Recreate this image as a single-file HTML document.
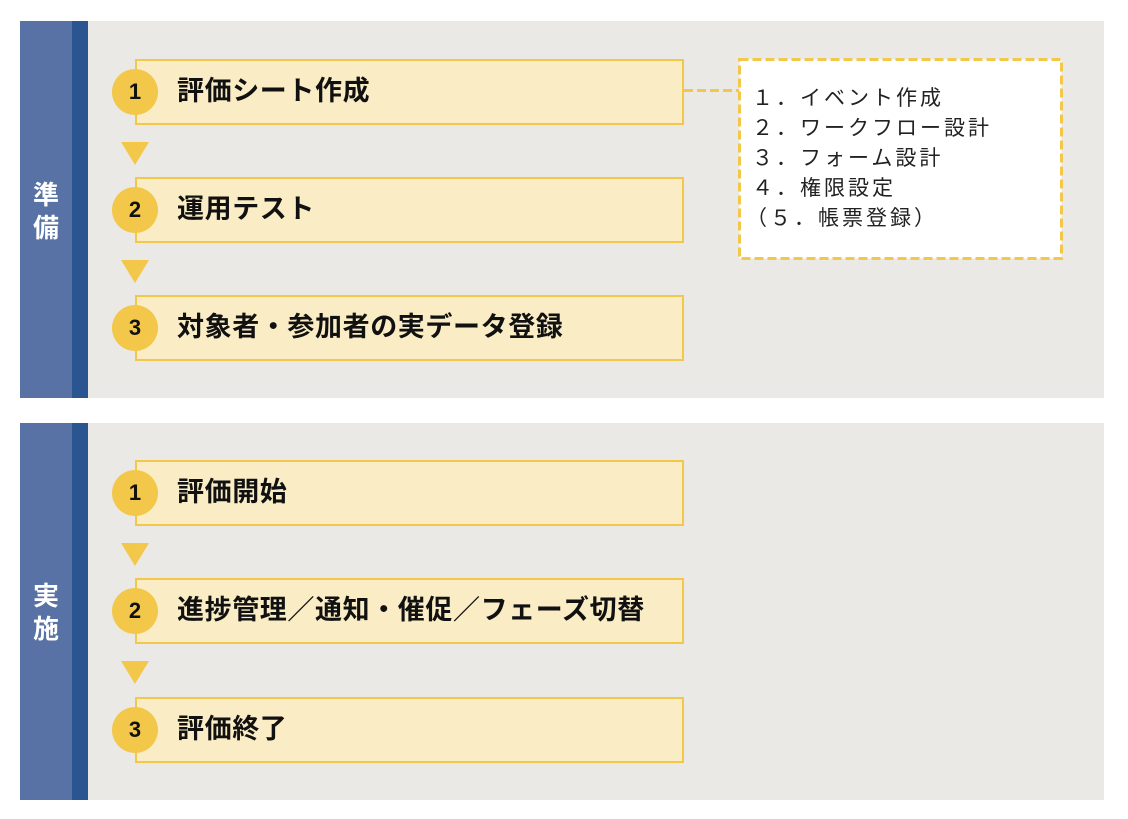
<!DOCTYPE html>
<html><head><meta charset="utf-8"><style>
body{margin:0;width:1128px;height:819px;background:#fff;position:relative;overflow:hidden;font-family:"Liberation Sans","Noto Sans CJK JP",sans-serif}
div{position:absolute;box-sizing:border-box}
.sec{left:20px;width:1084px;background:#ebe9e6}
.lb{left:0;top:0;width:52px;height:100%;background:#5872a5}
.db{left:52px;top:0;width:16px;height:100%;background:#2b5590}
.vl{left:0;width:52px;color:#fff;font-weight:bold;font-size:26px;text-align:center;line-height:33px}
.box{left:135px;width:549px;height:66px;background:#faedc5;border:2px solid #f3c74a;font-weight:bold;font-size:27px;letter-spacing:0.6px;line-height:60px;padding-left:40px;color:#111}
.c{left:112px;width:46px;height:46px;border-radius:50%;background:#f3c74a;font-weight:bold;font-size:22px;text-align:center;line-height:46px;color:#111}
.t{left:121px;width:0;height:0;border-left:14px solid transparent;border-right:14px solid transparent;border-top:23px solid #f3c74a}
</style></head><body>
<div class="sec" style="top:21px;height:377px"><div class="lb"></div><div class="db"></div><div class="vl" style="top:158px">準<br>備</div></div>
<div class="sec" style="top:423px;height:377px"><div class="lb"></div><div class="db"></div><div class="vl" style="top:157px">実<br>施</div></div>

<div class="box" style="top:59px">評価シート作成</div><div class="c" style="top:69px">1</div>
<div class="t" style="top:142px"></div>
<div class="box" style="top:177px">運用テスト</div><div class="c" style="top:187px">2</div>
<div class="t" style="top:260px"></div>
<div class="box" style="top:295px">対象者・参加者の実データ登録</div><div class="c" style="top:305px">3</div>

<div class="box" style="top:460px">評価開始</div><div class="c" style="top:470px">1</div>
<div class="t" style="top:543px"></div>
<div class="box" style="top:578px">進捗管理／通知・催促／フェーズ切替</div><div class="c" style="top:588px">2</div>
<div class="t" style="top:661px"></div>
<div class="box" style="top:697px">評価終了</div><div class="c" style="top:707px">3</div>

<svg style="position:absolute;left:0;top:0" width="1128" height="819">
<rect x="739.5" y="59.5" width="322" height="199" fill="#fff" stroke="#f3c74a" stroke-width="3" stroke-dasharray="9 4"/>
<line x1="684" y1="90.5" x2="739" y2="90.5" stroke="#f3c74a" stroke-width="3" stroke-dasharray="9 4"/>
</svg>
<div style="left:740px;top:84px;width:320px;height:170px;padding-left:12px;font-size:21px;letter-spacing:3px;line-height:30px;color:#222">１．イベント作成<br>２．ワークフロー設計<br>３．フォーム設計<br>４．権限設定<br><span style="margin-left:-6px">（５．帳票登録）</span></div>
</body></html>
